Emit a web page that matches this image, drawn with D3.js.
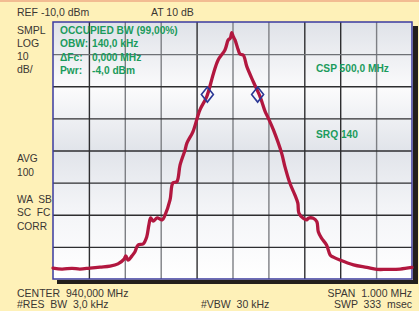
<!DOCTYPE html>
<html>
<head>
<meta charset="utf-8">
<script src="https://cdn.jsdelivr.net/npm/d3@7"></script>
<style>
  html, body { margin: 0; padding: 0; background: #fef1b8; }
  svg { display: block; }
  text { font-family: "Liberation Sans", Arial, sans-serif; }
</style>
</head>
<body>
<svg id="chart" width="419" height="311"></svg>
<script>
// trace: offset from centre in kHz, level in dBm
let freqOffset = [-500, -475, -447, -425, -397, -369, -341, -319, -302, -297, -291, -280, -272, -263, -249, -239, -233, -228, -221, -210, -196, -188, -174, -166, -155, -146, -132, -127, -110, -91, -72, -53, -40, -21, -12, -6, -2, 2, 7, 16, 21, 30, 40, 58, 77, 91, 100, 114, 137, 146, 160, 174, 182, 185, 197, 207, 211, 225, 235, 239, 248, 262, 272, 281, 299, 337, 374, 402, 430, 467, 500]
let level = [-86.6, -86.9, -86.7, -86.9, -86.6, -86.3, -86.0, -85.3, -83.8, -82.8, -84.1, -82.8, -81.6, -79.4, -79.1, -76.9, -73.2, -71.0, -72.0, -71.0, -71.6, -70.1, -65.4, -60.1, -59.7, -54.5, -49.8, -47.7, -44.1, -37.4, -33.3, -26.0, -21.8, -18.7, -15.6, -15.0, -13.3, -14.5, -15.6, -18.7, -20.0, -20.3, -23.9, -28.6, -33.3, -37.9, -40.0, -43.6, -50.9, -55.0, -60.2, -63.9, -66.4, -69.5, -71.1, -71.6, -71.1, -71.1, -72.2, -75.3, -77.3, -79.4, -82.5, -83.2, -84.1, -85.6, -86.4, -87.0, -87.0, -86.9, -86.4]
// occupied bandwidth markers (kHz, dBm)
let obwFreq = [-70, 70]
let obwLevel = [-32.6, -32.6]

let leftLabels = ["SMPL", "LOG", "10", "dB/"]
let leftLabels2 = ["AVG", "100", "", "WA  SB", "SC  FC", "CORR"]
let obwNames = ["OBW:", "\u0394Fc:", "Pwr:"]
let obwValues = ["140,0 kHz", "0,000 MHz", "-4,0 dBm"]

let svg = d3.select("#chart")
let W = 419, H = 311
let plot = { left: 53, top: 22, right: 412, bottom: 279 }

let x = d3.scaleLinear().domain([-500, 500]).range([plot.left, plot.right])
let y = d3.scaleLinear().domain([-90, -10]).range([plot.bottom, plot.top])

// background + top strip
svg.append("rect").attr("width", W).attr("height", H).attr("fill", "#fef1b8")
svg.append("rect").attr("width", W).attr("height", 2).attr("fill", "#f2bc92")

let defs = svg.append("defs")
let grad = defs.append("linearGradient").attr("id", "bg").attr("x1", 0).attr("y1", 0).attr("x2", 0).attr("y2", 1)
let stops = [[0, "#dfe2e8"], [0.26, "#fbfbfc"], [0.5, "#e1e4ea"], [0.72, "#f3f4f7"], [1, "#ffffff"]]
stops.forEach(s => grad.append("stop").attr("offset", s[0]).attr("stop-color", s[1]))

// shadow
svg.append("rect").attr("x", plot.right + 1).attr("y", plot.top + 4)
    .attr("width", 5).attr("height", plot.bottom - plot.top).attr("fill", "#231f1c")
svg.append("rect").attr("x", plot.left + 4).attr("y", plot.bottom + 1)
    .attr("width", plot.right - plot.left + 2).attr("height", 4).attr("fill", "#231f1c")

svg.append("rect").attr("x", plot.left).attr("y", plot.top)
    .attr("width", plot.right - plot.left).attr("height", plot.bottom - plot.top)
    .attr("fill", "url(#bg)")

// grid through axes
let gx = svg.append("g").attr("transform", `translate(0,${plot.bottom})`)
    .call(d3.axisBottom(x).tickValues(d3.range(-400, 401, 100)).tickSize(-(plot.bottom - plot.top)).tickFormat(""))
let gy = svg.append("g").attr("transform", `translate(${plot.left},0)`)
    .call(d3.axisLeft(y).tickValues(d3.range(-80, -19, 10)).tickSize(-(plot.right - plot.left)).tickFormat(""))
svg.selectAll(".domain").remove()
let grayV = [-300, -200, 0, 100, 400]
gx.selectAll(".tick line").attr("stroke", d => grayV.includes(d) ? "#7d7f84" : "#2e2e30").attr("stroke-width", 1.4)
gy.selectAll(".tick line").attr("stroke", d => d == -20 ? "#6e7075" : "#2e2e30").attr("stroke-width", 1.4)

svg.append("rect").attr("x", plot.left).attr("y", plot.top)
    .attr("width", plot.right - plot.left).attr("height", plot.bottom - plot.top)
    .attr("fill", "none").attr("stroke", "#3b3ba0").attr("stroke-width", 1.5)

// trace
let pts = freqOffset.map((f, i) => [f, level[i]])
let line = d3.line().x(d => x(d[0])).y(d => y(d[1])).curve(d3.curveCatmullRom.alpha(0.5))
svg.append("path").datum(pts).attr("d", line)
    .attr("fill", "none").attr("stroke", "#b2173f").attr("stroke-width", 3.3)
    .attr("stroke-linejoin", "round").attr("stroke-linecap", "round")

// obw markers
obwFreq.forEach((f, i) => {
    let cx = x(f), cy = y(obwLevel[i])
    svg.append("path").attr("d", `M${cx},${cy - 7.5}L${cx + 6},${cy}L${cx},${cy + 7.5}L${cx - 6},${cy}Z`)
        .attr("fill", "none").attr("stroke", "#2b3896").attr("stroke-width", 1.6)
})

// surrounding labels
let dark = "#3a3633"
let txt = (s, tx, ty, opts = {}) => svg.append("text").attr("x", tx).attr("y", ty).text(s)
    .attr("font-size", opts.size || 10.5).attr("fill", opts.fill || dark)
    .attr("font-weight", opts.bold ? "bold" : "normal")
    .attr("text-anchor", opts.anchor || "start")
    .style("white-space", "pre")

txt("REF -10,0 dBm", 17, 15.5)
txt("AT 10 dB", 151, 15.5)
leftLabels.forEach((s, i) => txt(s, 17, 33.5 + i * 13.3))
leftLabels2.forEach((s, i) => txt(s, 17, 162 + i * 13.5, { size: 10.2 }))
txt("CENTER  940,000 MHz", 17, 296.5)
txt("#RES  BW  3,0 kHz", 17, 308)
txt("#VBW  30 kHz", 201, 308)
txt("SPAN  1.000 MHz", 412, 296.5, { anchor: "end" })
txt("SWP  333  msec", 412, 308, { anchor: "end" })

let green = "#1a9b5c"
let gs = 10.2
txt("OCCUPIED BW (99,00%)", 60, 33.5, { fill: green, bold: true, size: gs })
obwNames.forEach((s, i) => {
    txt(s, 60, 47 + i * 13.5, { fill: green, bold: true, size: gs })
    txt(obwValues[i], 92, 47 + i * 13.5, { fill: green, bold: true, size: gs })
})
txt("CSP 500,0 MHz", 316, 72, { fill: green, bold: true, size: gs })
txt("SRQ 140", 316, 137.5, { fill: green, bold: true, size: gs })
</script>
</body>
</html>
